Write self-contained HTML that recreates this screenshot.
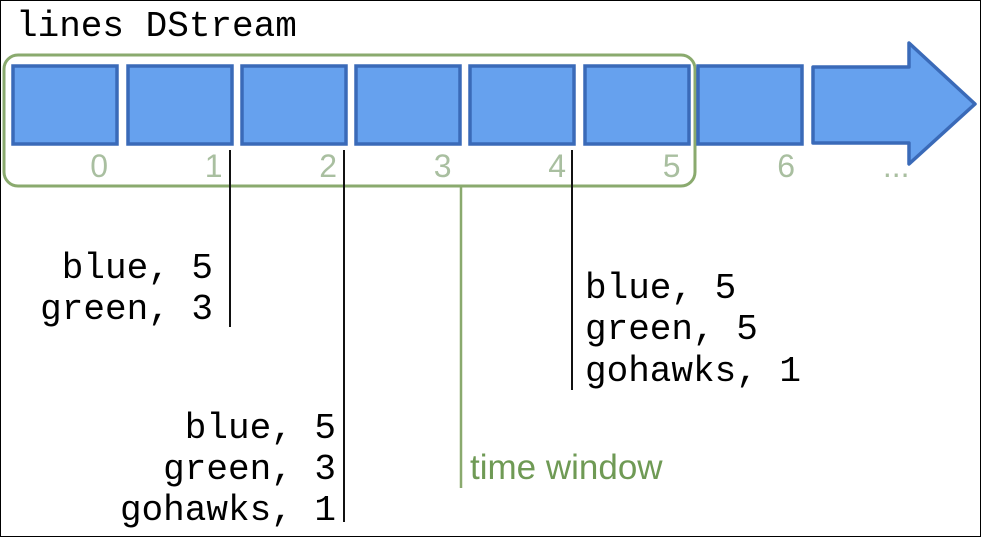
<!DOCTYPE html>
<html><head><meta charset="utf-8"><style>
body{margin:0;background:#fff}
svg{display:block}
.m{font-family:"Liberation Mono",monospace;font-size:36px;fill:#000}
.n{font-family:"Liberation Sans",sans-serif;font-size:32px;fill:#a9bfa0}
</style></head><body>
<svg width="981" height="537" viewBox="0 0 981 537">
<rect x="0.5" y="0.5" width="980" height="536" fill="#fff" stroke="#000"/>
<text class="m" x="16" y="36">lines DStream</text>
<rect x="4" y="55" width="691" height="131" rx="14" fill="none" stroke="#8aaa6e" stroke-width="3"/>
<g id="boxes"></g>
<path d="M813 67 H909 V43 L975 104 L909 164 V143 H813 Z" fill="#66a1ee" stroke="#3a6ab8" stroke-width="3.5" stroke-linejoin="round"/>
<g id="nums"></g>
<line x1="230" y1="150" x2="230" y2="327" stroke="#111" stroke-width="2"/>
<line x1="344" y1="150" x2="344" y2="522" stroke="#111" stroke-width="2"/>
<line x1="572" y1="150" x2="572" y2="390" stroke="#111" stroke-width="2"/>
<line x1="461" y1="186" x2="461" y2="488" stroke="#8aaa6e" stroke-width="2.5"/>
<g class="m" text-anchor="end">
<text x="213" y="278">blue, 5</text><text x="213" y="319">green, 3</text></g>
<g class="m" text-anchor="end">
<text x="336" y="438">blue, 5</text><text x="336" y="479">green, 3</text><text x="336" y="520">gohawks, 1</text></g>
<g class="m">
<text x="585" y="298">blue, 5</text><text x="585" y="339">green, 5</text><text x="585" y="381">gohawks, 1</text></g>
<text x="470" y="479" font-family="Liberation Sans,sans-serif" font-size="35" fill="#6f9a55">time window</text>
</svg>
<script>
const batchLabels=["0","1","2","3","4","5","6","..."];
const bx=[13,128,242,356,470,585,698];
const g=document.getElementById('boxes');
bx.forEach((x,i)=>{const r=document.createElementNS('http://www.w3.org/2000/svg','rect');
r.setAttribute('x',x);r.setAttribute('y',66);r.setAttribute('width',104);r.setAttribute('height',78);
r.setAttribute('fill','#66a1ee');r.setAttribute('stroke','#3a6ab8');r.setAttribute('stroke-width','3.5');


g.appendChild(r);});
const ng=document.getElementById('nums');
batchLabels.forEach((l,i)=>{const t=document.createElementNS('http://www.w3.org/2000/svg','text');
t.setAttribute('class','n');t.setAttribute('x',108+i*114.5);t.setAttribute('y',177);t.setAttribute('text-anchor','end');
t.textContent=l;


ng.appendChild(t);});
</script>
</body></html>
